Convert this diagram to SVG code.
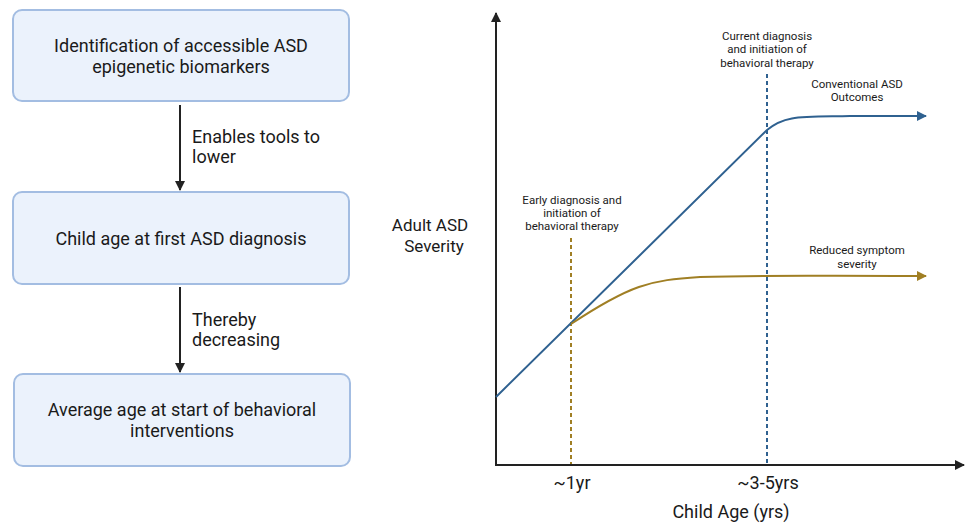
<svg xmlns="http://www.w3.org/2000/svg" width="967" height="523" viewBox="0 0 967 523">
<style>
.box{fill:#ebf2fc;stroke:#a3bde2;stroke-width:2}
.t{font-family:Roboto,"Liberation Sans",sans-serif;fill:#1a1a1a}
.b{font-size:18px;text-anchor:middle}
.a{font-size:17px;text-anchor:middle}
.l{font-size:18px}
.s{font-size:11.5px;text-anchor:middle}
.conn{stroke:#222;stroke-width:2;fill:none}
</style>
<defs>
<marker id="ah" viewBox="0 0 10 10" refX="9" refY="5" markerWidth="5" markerHeight="5" orient="auto" markerUnits="strokeWidth"><path d="M0,0L10,5L0,10z" fill="#222"/></marker>
<marker id="ahb" viewBox="0 0 10 10" refX="9" refY="5" markerWidth="5" markerHeight="5" orient="auto" markerUnits="strokeWidth"><path d="M0,0L10,5L0,10z" fill="#2f6190"/></marker>
<marker id="ahg" viewBox="0 0 10 10" refX="9" refY="5" markerWidth="5" markerHeight="5" orient="auto" markerUnits="strokeWidth"><path d="M0,0L10,5L0,10z" fill="#a07f24"/></marker>
</defs>
<g id="node1"><rect class="box" x="13" y="10" width="336" height="91" rx="9"/>
<text class="t b" x="181" y="52">Identification of accessible ASD</text>
<text class="t b" x="181" y="73">epigenetic biomarkers</text></g>
<g id="node2"><rect class="box" x="13" y="192" width="336" height="92" rx="9"/>
<text class="t b" x="181" y="245">Child age at first ASD diagnosis</text></g>
<g id="node3"><rect class="box" x="14" y="374" width="336" height="92" rx="9"/>
<text class="t b" x="182" y="416">Average age at start of behavioral</text>
<text class="t b" x="182" y="437">interventions</text></g>
<g id="connectors">
<line class="conn" x1="180" y1="105" x2="180" y2="190" marker-end="url(#ah)"/>
<line class="conn" x1="180" y1="287" x2="180" y2="372" marker-end="url(#ah)"/>
<text class="t l" x="192" y="143">Enables tools to</text>
<text class="t l" x="192" y="163">lower</text>
<text class="t l" x="192" y="326">Thereby</text>
<text class="t l" x="192" y="346">decreasing</text>
</g>
<g id="chart">
<line class="conn" x1="496" y1="466" x2="496" y2="13" marker-end="url(#ah)"/>
<line class="conn" x1="495" y1="465" x2="964" y2="465" marker-end="url(#ah)"/>
<line x1="571" y1="238" x2="571" y2="464" stroke="#a07f24" stroke-width="2" stroke-dasharray="4,3"/>
<line x1="767" y1="74" x2="767" y2="464" stroke="#2f6190" stroke-width="2" stroke-dasharray="4,3"/>
<path d="M496,397 L767,130 C785,115 800,117 850,116 L926,116" stroke="#2f6190" stroke-width="2" fill="none" marker-end="url(#ahb)"/>
<path d="M571,324 C630,285 650,280 700,277 C760,275 800,276 926,276" stroke="#a07f24" stroke-width="2" fill="none" marker-end="url(#ahg)"/>
<text class="t s" x="767" y="40">Current diagnosis</text>
<text class="t s" x="767" y="53">and initiation of</text>
<text class="t s" x="767" y="67">behavioral therapy</text>
<text class="t s" x="857" y="88">Conventional ASD</text>
<text class="t s" x="857" y="101">Outcomes</text>
<text class="t s" x="572" y="204">Early diagnosis and</text>
<text class="t s" x="572" y="217">initiation of</text>
<text class="t s" x="572" y="230">behavioral therapy</text>
<text class="t s" x="857" y="254">Reduced symptom</text>
<text class="t s" x="857" y="268">severity</text>
<text class="t a" x="430" y="231">Adult ASD</text>
<text class="t a" x="434" y="252">Severity</text>
<text class="t b" x="572" y="489">~1yr</text>
<text class="t b" x="768" y="489">~3-5yrs</text>
<text class="t b" x="731" y="518">Child Age (yrs)</text>
</g>
</svg>
